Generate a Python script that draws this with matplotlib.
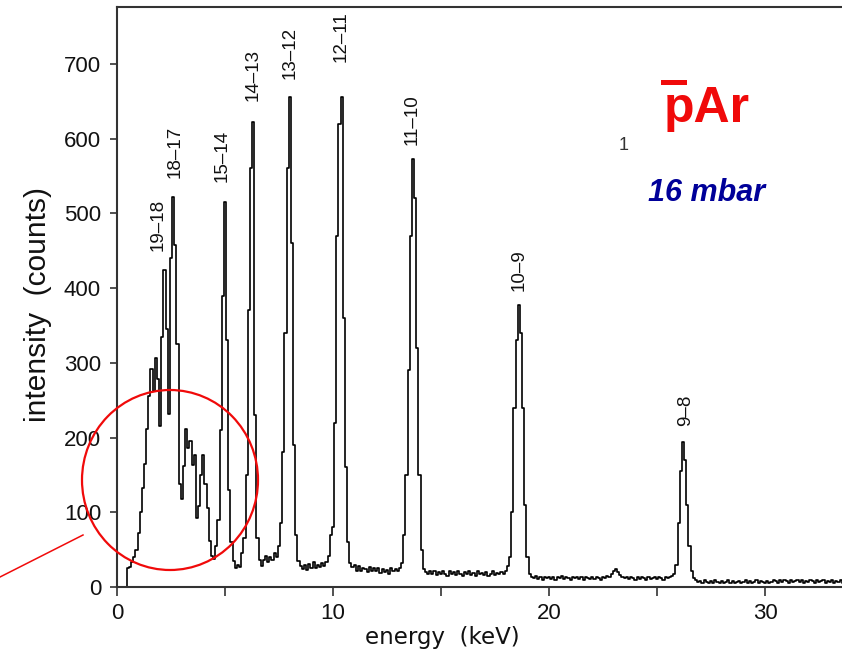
import numpy as np
import matplotlib
matplotlib.use("Agg")
import matplotlib.pyplot as plt
from matplotlib.patches import Ellipse, Rectangle
from matplotlib.lines import Line2D

# ---------------- data ----------------
energy_start = 0.4      # keV, centre of first channel
channel_width = 0.1     # keV

counts_low = [  # 0.4 - 9.9 keV
    0, 25, 27, 34, 40, 50,
    72, 100, 132, 165, 212, 255, 292, 262, 306, 278,
    216, 335, 424, 345, 232, 440, 522, 458, 325, 138,
    118, 162, 212, 186, 196, 163, 176, 92, 108, 150,
    176, 138, 106, 62, 42, 38, 55, 90, 210, 390,
    515, 330, 130, 60, 35, 26, 30, 27, 45, 65,
    150, 370, 560, 622, 230, 65, 36, 28, 36, 42,
    34, 40, 36, 45, 40, 55, 85, 180, 340, 560,
    655, 460, 190, 70, 35, 28, 24, 29, 23, 31,
    25, 33, 26, 30, 27, 32, 28, 33, 42, 70,
]
counts_mid = [  # 10.0 - 19.9 keV
    80, 220, 470, 620, 655, 360, 160, 60, 32, 27,
    30, 22, 28, 21, 26, 24, 20, 27, 22, 25,
    21, 26, 19, 24, 20, 23, 18, 25, 21, 24,
    22, 25, 32, 70, 150, 290, 470, 572, 520, 320,
    150, 50, 24, 20, 17, 22, 18, 21, 16, 20,
    17, 22, 18, 15, 21, 17, 20, 16, 22, 18,
    15, 20, 17, 21, 16, 19, 15, 21, 17, 19,
    16, 20, 15, 18, 21, 16, 19, 17, 20, 18,
    22, 28, 40, 100, 240, 330, 377, 340, 240, 110,
    40, 18, 14, 12, 15, 11, 14, 10, 13, 12,
]
counts_high = [  # 20.0 - 33.6 keV
    14, 11, 13, 10, 14, 12, 15, 11, 13, 12,
    10, 14, 12, 13, 11, 14, 10, 13, 12, 11,
    13, 11, 14, 12, 10, 13, 12, 15, 14, 18,
    21, 24, 20, 16, 13, 12, 14, 11, 13, 12,
    10, 13, 11, 14, 12, 10, 13, 11, 12, 14,
    11, 13, 12, 10, 14, 12, 13, 15, 18, 30,
    85, 155, 194, 170, 110, 55, 22, 12, 9, 7,
    8, 6, 9, 7, 5, 8, 6, 9, 7, 6,
    8, 5, 7, 9, 6, 8, 5, 7, 8, 6,
    7, 9, 6, 8, 5, 7, 9, 6, 8, 7,
    6, 8, 5, 7, 9, 8, 6, 10, 7, 9,
    8, 6, 9, 7, 8, 10, 7, 9, 6, 8,
    7, 9, 8, 6, 10, 7, 8, 9, 6, 8,
    7, 9, 6, 8, 7, 9, 6,
]

line_labels = ["19–18", "18–17", "15–14", "14–13", "13–12", "12–11", "11–10", "10–9", "9–8"]
label_energy = [1.9, 2.69, 4.86, 6.3, 8.0, 10.37, 13.66, 18.6, 26.3]
label_counts = [485, 582, 577, 685, 715, 736, 625, 424, 237]

x_major = [0, 10, 20, 30]
x_minor = [5, 15, 25]
y_ticks = [0, 100, 200, 300, 400, 500, 600, 700]

# ---------------- figure ----------------
counts = np.array(counts_low + counts_mid + counts_high, dtype=float)
energy = np.round(energy_start + channel_width * np.arange(len(counts)), 2)

W, H = 842, 663
fig = plt.figure(figsize=(W / 100, H / 100), dpi=100)
ax = fig.add_axes([117 / W, 1 - 587 / H, 1 - 117 / W, (587 - 7) / H])

ax.step(energy, counts, where="mid", color="black", lw=1.2)

ax.set_xlim(0, 33.56)
ax.set_ylim(0, 776)

spine_col = "#333333"
for s in ["left", "top", "bottom"]:
    ax.spines[s].set_linewidth(1.5)
    ax.spines[s].set_color(spine_col)
ax.spines["right"].set_visible(False)

ax.set_xticks(x_major)
ax.set_xticks(x_minor, minor=True)
ax.set_yticks(y_ticks)
ax.tick_params(axis="x", which="both", direction="out", length=6.5, width=1.2,
               color=spine_col, pad=5, labelsize=16)
ax.tick_params(axis="y", which="both", direction="out", length=5, width=1.2,
               color=spine_col, pad=6.5, labelsize=16)
for lab in ax.get_xticklabels() + ax.get_yticklabels():
    lab.set_family("Liberation Sans")
    lab.set_color("#111111")

ax.set_xlabel("energy  (keV)", fontsize=16.5, family="DejaVu Sans", color="#111111")
ax.xaxis.set_label_coords((442 - 117) / 725, (587 - 626) / 580)
ax.set_ylabel("intensity  (counts)", fontsize=21.5, family="Liberation Sans", color="#111111")
ax.yaxis.set_label_coords((52 - 117) / 725, (587 - 305) / 580)

for t, e, c in zip(line_labels, label_energy, label_counts):
    ax.text(e, c, t, rotation=90, ha="center", va="center", fontsize=13.5,
            family="Liberation Sans", color="#111111")

# ---------------- annotations ----------------
red = "#f00a0a"
fig.add_artist(Ellipse((170 / W, 1 - 480 / H), 176 / W, 180 / H,
                       transform=fig.transFigure, fill=False, edgecolor=red, lw=1.6))
fig.add_artist(Line2D([0 / W, 83 / W], [1 - 577 / H, 1 - 535 / H],
                      transform=fig.transFigure, color=red, lw=1.1))

fig.text(664 / W, 1 - 122 / H, "pAr", fontsize=36, fontweight="bold", color=red,
         family="Liberation Sans", ha="left", va="baseline")
fig.add_artist(Rectangle((661 / W, 1 - 85 / H), 26 / W, 5 / H,
                         transform=fig.transFigure, color=red, lw=0))
fig.text(648 / W, 1 - 201 / H, "16 mbar", fontsize=22, fontweight="bold", style="italic",
         color="#000099", family="Liberation Sans", ha="left", va="baseline")
fig.text(619 / W, 1 - 150 / H, "1", fontsize=13, color="#333333",
         family="Liberation Sans", ha="left", va="baseline")

fig.savefig("out.png", dpi=100)
